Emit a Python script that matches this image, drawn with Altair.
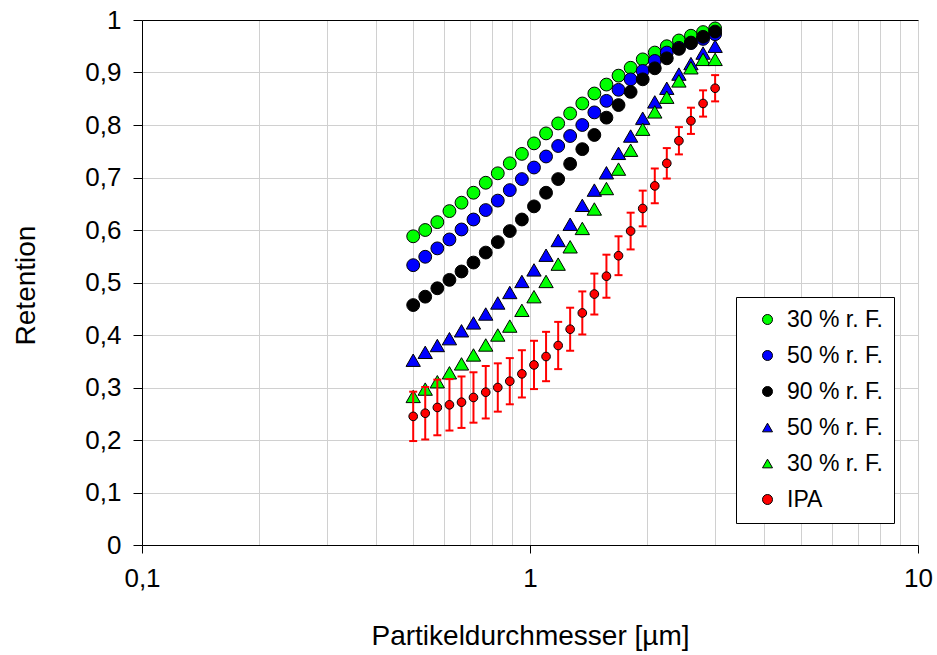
import altair as alt
import pandas as pd

# particle diameters (µm)
diam = [0.500, 0.537, 0.577, 0.620, 0.666, 0.715, 0.769, 0.826, 0.887, 0.953,
        1.024, 1.100, 1.182, 1.269, 1.364, 1.465, 1.574, 1.691, 1.817, 1.952,
        2.097, 2.252, 2.420, 2.599, 2.793, 3.000]

c30 = [0.588, 0.600, 0.615, 0.636, 0.652, 0.671, 0.690, 0.708, 0.727, 0.745,
       0.765, 0.784, 0.803, 0.822, 0.841, 0.860, 0.877, 0.894, 0.909, 0.925,
       0.938, 0.950, 0.961, 0.970, 0.977, 0.984]
c50 = [0.533, 0.549, 0.565, 0.582, 0.601, 0.620, 0.638, 0.656, 0.676, 0.697,
       0.719, 0.740, 0.760, 0.779, 0.800, 0.824, 0.846, 0.867, 0.887, 0.903,
       0.922, 0.938, 0.947, 0.956, 0.964, 0.973]
c90 = [0.457, 0.473, 0.489, 0.505, 0.521, 0.538, 0.557, 0.577, 0.598, 0.620,
       0.645, 0.671, 0.697, 0.726, 0.754, 0.781, 0.814, 0.838, 0.863, 0.887,
       0.908, 0.927, 0.945, 0.957, 0.968, 0.978]
t50 = [0.352, 0.367, 0.380, 0.393, 0.408, 0.423, 0.440, 0.461, 0.481, 0.502,
       0.524, 0.552, 0.580, 0.611, 0.647, 0.676, 0.709, 0.746, 0.779, 0.813,
       0.844, 0.870, 0.897, 0.917, 0.937, 0.950]
t30 = [0.283, 0.297, 0.311, 0.328, 0.345, 0.362, 0.381, 0.400, 0.417, 0.447,
       0.473, 0.502, 0.535, 0.568, 0.603, 0.640, 0.679, 0.716, 0.752, 0.792,
       0.825, 0.853, 0.884, 0.909, 0.925, 0.925]
ipa = [0.245, 0.251, 0.262, 0.267, 0.272, 0.281, 0.291, 0.300, 0.312, 0.326,
       0.343, 0.359, 0.380, 0.411, 0.442, 0.478, 0.512, 0.551, 0.598, 0.641,
       0.684, 0.727, 0.770, 0.808, 0.841, 0.870]
ipa_err = [0.047, 0.050, 0.053, 0.049, 0.049, 0.048, 0.050, 0.046, 0.044, 0.045,
           0.046, 0.047, 0.045, 0.041, 0.041, 0.039, 0.041, 0.037, 0.035, 0.034,
           0.033, 0.029, 0.026, 0.025, 0.025, 0.025]

keys = ["c30", "c50", "c90", "t50", "t30", "ipa"]
labels = ["30 % r. F.", "50 % r. F.", "90 % r. F.", "50 % r. F.", "30 % r. F.", "IPA"]
colors = ["#00ff00", "#0000ff", "#000000", "#0000ff", "#00ff00", "#ff0000"]
shapes = ["circle", "circle", "circle", "triangle-up", "triangle-up", "circle"]

x_grid = [0.1, 0.2, 0.3, 0.4, 0.5, 0.6, 0.7, 0.8, 0.9,
          1, 2, 3, 4, 5, 6, 7, 8, 9, 10]
y_ticks = [0, 0.1, 0.2, 0.3, 0.4, 0.5, 0.6, 0.7, 0.8, 0.9, 1]

series_vals = [c30, c50, c90, t50, t30, ipa]
rows = []
for k, vals in zip(keys, series_vals):
    for xv, yv in zip(diam, vals):
        rows.append({"x": xv, "y": yv, "series": k})
df = pd.DataFrame(rows)

err = pd.DataFrame({
    "x": diam,
    "lo": [v - e for v, e in zip(ipa, ipa_err)],
    "hi": [v + e for v, e in zip(ipa, ipa_err)],
})

FONT = "Liberation Sans"
NB = "\u00a0\u00a0"
lab_expr = " : ".join(
    [f"datum.label == '{k}' ? '{l}{NB}'" for k, l in zip(keys[:-1], labels[:-1])]
) + f" : '{labels[-1]}'"

x_axis = alt.Axis(
    values=x_grid,
    title="Partikeldurchmesser [µm]",
    labelExpr="datum.value == 0.1 ? '0,1' : datum.value == 1 ? '1' : datum.value == 10 ? '10' : ''",
    grid=True, gridColor="#d0d0d0", gridWidth=1,
    tickColor="black", tickSize=8, tickWidth=1,
    tickOpacity={"condition": {"test": "datum.value == 0.1 || datum.value == 1 || datum.value == 10", "value": 1}, "value": 0},
    domainColor="black", domainWidth=1,
    labelFont=FONT, labelFontSize=26, labelColor="black", labelPadding=12,
    labelFlush=False, labelOverlap=False,
    titleFont=FONT, titleFontSize=28, titleFontWeight="normal", titleColor="black",
    titleY=99, titleBaseline="alphabetic",
)
y_axis = alt.Axis(
    values=y_ticks, format=".1~f",
    labelExpr="replace(datum.label, '.', ',')",
    title="Retention",
    grid=True, gridWidth=1,
    gridColor={"condition": {"test": "datum.value == 1", "value": "black"}, "value": "#d0d0d0"},
    tickColor="black", tickSize=9, tickWidth=1,
    domainColor="black", domainWidth=1,
    labelFont=FONT, labelFontSize=26, labelColor="black", labelPadding=12,
    labelFlush=False, labelOverlap=False,
    titleFont=FONT, titleFontSize=28, titleFontWeight="normal", titleColor="black",
    titleAngle=270, titleX=-108, titleY=265, titleBaseline="alphabetic", titleAlign="center",
)

xs = alt.Scale(type="log", domain=[0.1, 10], nice=False)
ys = alt.Scale(domain=[0, 1], nice=False)

legend = alt.Legend(
    title=None, orient="none", legendX=594, legendY=277,
    labelExpr=lab_expr, labelFont=FONT, labelFontSize=23, labelColor="black",
    labelOffset=8, symbolOffset=9, padding=11, rowPadding=12,
    strokeColor="black", fillColor="white",
    symbolSize=100, symbolStrokeColor="black", symbolStrokeWidth=1,
)

enc = dict(
    x=alt.X("x:Q", scale=xs, axis=x_axis),
    y=alt.Y("y:Q", scale=ys, axis=y_axis),
    color=alt.Color("series:N", scale=alt.Scale(domain=keys, range=colors), legend=legend),
    shape=alt.Shape("series:N", scale=alt.Scale(domain=keys, range=shapes), legend=legend),
)

base = alt.Chart(df)
pts_circ = base.mark_point(filled=True, stroke="black", strokeWidth=1, opacity=1, size=165).encode(**enc).transform_filter(
    "datum.series == 'c30' || datum.series == 'c50' || datum.series == 'c90'")
pts_tri = base.mark_point(filled=True, stroke="black", strokeWidth=1, opacity=1, size=205).encode(**enc).transform_filter(
    "datum.series == 't50' || datum.series == 't30'")
pts_ipa = base.mark_point(filled=True, stroke="black", strokeWidth=1, opacity=1, size=75).encode(**enc).transform_filter(
    "datum.series == 'ipa'")

ex = alt.X("x:Q", scale=xs, axis=x_axis)
bars = alt.Chart(err).mark_rule(color="#ff0000", strokeWidth=2).encode(
    x=ex, y=alt.Y("lo:Q", scale=ys, axis=y_axis), y2="hi:Q")
cap_lo = alt.Chart(err).mark_tick(color="#ff0000", thickness=2, size=8, orient="horizontal", opacity=1).encode(
    x=ex, y=alt.Y("lo:Q", scale=ys, axis=y_axis))
cap_hi = alt.Chart(err).mark_tick(color="#ff0000", thickness=2, size=8, orient="horizontal", opacity=1).encode(
    x=ex, y=alt.Y("hi:Q", scale=ys, axis=y_axis))

chart = alt.layer(pts_circ, pts_tri, bars, cap_lo, cap_hi, pts_ipa).properties(
    width=776, height=525,
    autosize=alt.AutoSizeParams(type="none"),
    padding={"left": 142, "top": 20, "right": 19, "bottom": 110},
    background="white",
).configure_view(stroke=None)

chart.save("out.html", embed_options={"renderer": "svg", "actions": False})
